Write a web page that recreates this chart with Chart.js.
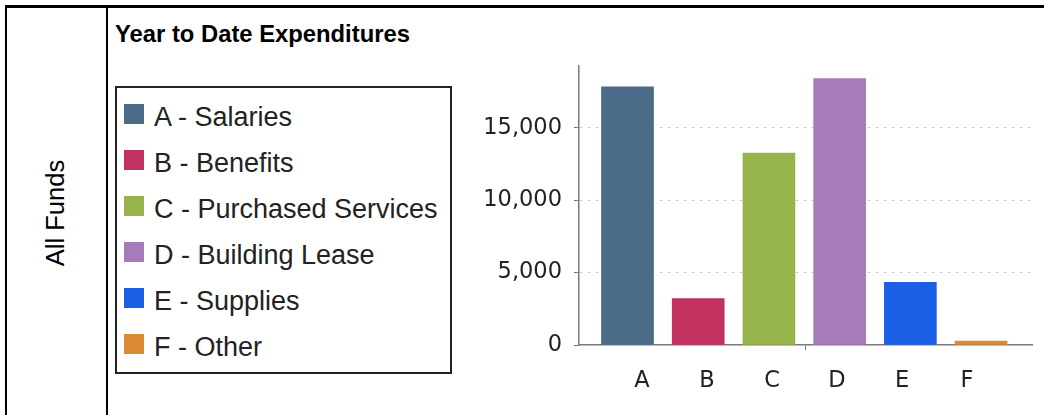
<!DOCTYPE html>
<html>
<head>
<meta charset="utf-8">
<title>Year to Date Expenditures</title>
<script src="https://cdn.jsdelivr.net/npm/chart.js@4.4.1/dist/chart.umd.min.js"></script>
<style>
    html, body { margin: 0; padding: 0; background: #fff; overflow: hidden; }
    body { width: 1044px; height: 415px; position: relative; font-family: "Liberation Sans", Arial, sans-serif; }
    .line { position: absolute; background: #000; }
    #side-label {
        position: absolute; left: 56px; top: 213px;
        transform: translate(-50%, -50%) rotate(-90deg);
        font-size: 25.5px; line-height: 1; white-space: nowrap; color: #000;
    }
    #title {
        position: absolute; left: 115px; top: 22px;
        font-size: 23.8px; line-height: 1; font-weight: bold; color: #000; white-space: nowrap;
    }
    #legend {
        position: absolute; left: 115px; top: 86px; width: 337px; height: 288px;
        box-sizing: border-box; border: 2px solid #222; padding: 6px 0 0 7px;
    }
    .legend-row { height: 46px; line-height: 46px; font-size: 27px; color: #222; white-space: nowrap; position: relative; }
    .legend-swatch { position: absolute; left: 0; top: 10px; width: 20px; height: 20px; }
    .legend-text { position: absolute; left: 30px; top: 0; }
    #chart-wrap { position: absolute; left: 470px; top: 40px; width: 574px; height: 375px; }
</style>
</head>
<body>

<div class="line" style="left:5px; top:5px; width:1039px; height:3px;"></div>
<div class="line" style="left:5px; top:5px; width:2px; height:410px;"></div>
<div class="line" style="left:106px; top:5px; width:2px; height:410px;"></div>

<div id="side-label">All Funds</div>
<div id="title">Year to Date Expenditures</div>
<div id="legend"></div>

<div id="chart-wrap"><canvas id="barChart" width="574" height="375"></canvas></div>

<script>
/* ---------- Dados ---------- */
const categories = ['A', 'B', 'C', 'D', 'E', 'F'];
const categoryNames = ['A - Salaries', 'B - Benefits', 'C - Purchased Services', 'D - Building Lease', 'E - Supplies', 'F - Other'];
const expenditures = [17830, 3200, 13260, 18400, 4330, 270];
const yTicks = [0, 5000, 10000, 15000];
const barColors = ['#4b6b88', '#c1325f', '#96b44b', '#a77bb7', '#1b5fe6', '#dc8a36'];

/* ---------- Legenda ---------- */
function buildLegend() {
    const box = document.getElementById('legend');
    categoryNames.forEach((name, i) => {
        const row = document.createElement('div');
        row.className = 'legend-row';
        row.innerHTML = `<span class="legend-swatch" style="background:${barColors[i]}"></span><span class="legend-text">${name}</span>`;
        box.appendChild(row);
    });
}

/* ---------- Gráfico ---------- */
function initChart() {
    const ctx = document.getElementById('barChart').getContext('2d');
    const axisColor = '#7a7a7a';
    const tickFont = { family: 'DejaVu Sans', size: 22.5 };

    new Chart(ctx, {
        type: 'bar',
        data: {
            datasets: [{
                data: categories.map((c, i) => ({ x: i, y: expenditures[i] })),
                backgroundColor: barColors,
                borderWidth: 0,
                barThickness: 52
            }]
        },
        options: {
            responsive: false,
            animation: false,
            layout: { padding: { top: 22, right: 12, left: 0, bottom: 0 } },
            plugins: { legend: { display: false }, tooltip: { enabled: false } },
            scales: {
                x: {
                    type: 'linear',
                    position: 'bottom',
                    offset: false,
                    min: -0.686,
                    max: 5.72,
                    weight: 0,
                    // única marca pequena no meio do eixo, como no original
                    afterBuildTicks: axis => { axis.ticks = [{ value: (axis.min + axis.max) / 2 }]; },
                    afterFit: axis => { axis.height = 0; },
                    ticks: { display: false },
                    grid: { offset: false, drawOnChartArea: false, drawTicks: true, tickLength: 5, color: axisColor },
                    border: { display: true, color: axisColor, width: 1.5 }
                },
                x2: {
                    type: 'linear',
                    position: 'bottom',
                    offset: false,
                    min: -0.969,
                    max: 6.0,
                    weight: 1,
                    afterBuildTicks: axis => { axis.ticks = categories.map((c, i) => ({ value: i })); },
                    afterFit: axis => { axis.height = 70; },
                    ticks: {
                        autoSkip: false,
                        maxRotation: 0,
                        padding: 15,
                        color: '#222',
                        font: tickFont,
                        callback: v => categories[v]
                    },
                    grid: { display: false },
                    border: { display: false }
                },
                y: {
                    type: 'linear',
                    min: 0,
                    max: 19300,
                    afterBuildTicks: axis => { axis.ticks = yTicks.map(v => ({ value: v })); },
                    afterFit: axis => { axis.width = 109; },
                    ticks: {
                        padding: 12,
                        color: '#222',
                        font: tickFont,
                        callback: v => v.toLocaleString('en-US')
                    },
                    grid: {
                        color: c => (c.tick && c.tick.value === 0) ? 'rgba(0,0,0,0)' : '#cccccc',
                        tickColor: axisColor,
                        tickLength: 5,
                        tickBorderDash: []
                    },
                    border: { display: true, color: axisColor, width: 1.5, dash: [3, 5] }
                }
            }
        }
    });
}

buildLegend();
initChart();
</script>
</body>
</html>
